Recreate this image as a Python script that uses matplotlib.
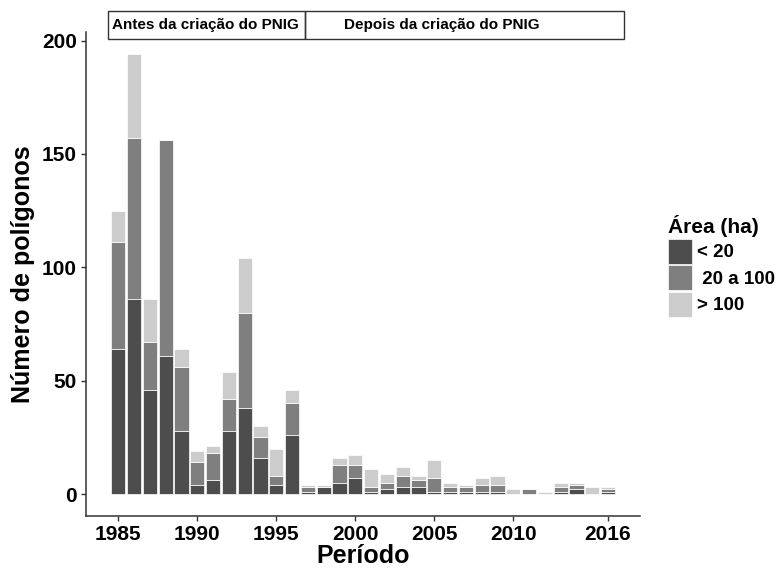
import matplotlib
matplotlib.use("Agg")
import matplotlib.pyplot as plt
from matplotlib.patches import Rectangle
import numpy as np

years = list(range(1985, 2017))
menor20 = [64, 86, 46, 61, 28, 4, 6, 28, 38, 16, 4, 26,
           1, 3, 5, 7, 1, 2, 3, 3, 1, 1, 1, 1, 1, 0, 0, 0, 1, 2, 0, 1]
de20a100 = [47, 71, 21, 95, 28, 10, 12, 14, 42, 9, 4, 14,
            2, 0, 8, 6, 2, 3, 5, 3, 6, 2, 2, 3, 3, 0, 2, 0, 2, 2, 0, 1]
maior100 = [14, 37, 19, 0, 8, 5, 3, 12, 24, 5, 12, 6,
            1, 1, 3, 4, 8, 4, 4, 2, 8, 2, 1, 3, 4, 2, 0, 1, 2, 1, 3, 1]
series_labels = ["< 20", " 20 a 100", "> 100"]
colors = ["#4D4D4D", "#7F7F7F", "#CCCCCC"]
xticks = [1985, 1990, 1995, 2000, 2005, 2010, 2016]
yticks = [0, 50, 100, 150, 200]
periodos = ["Antes da criação do PNIG", "Depois da criação do PNIG"]

plt.rcParams['font.family'] = ['Liberation Sans', 'DejaVu Sans']

W, H = 781, 569
fig = plt.figure(figsize=(W / 100, H / 100), dpi=100)
ax_left, ax_right = 86, 640.4
ax_top, ax_bot = 32.2, 516
ax = fig.add_axes([ax_left / W, (H - ax_bot) / H,
                   (ax_right - ax_left) / W, (ax_bot - ax_top) / H])

x = np.array(years)
bottom = np.zeros(len(years))
handles = []
for vals, lab, col in zip([menor20, de20a100, maior100], series_labels, colors):
    v = np.array(vals, dtype=float)
    b = ax.bar(x, v, width=0.9, bottom=bottom, color=col, edgecolor="white",
               linewidth=0.5, label=lab)
    handles.append(b)
    bottom += v

ax.set_xlim(1982.95, 2018.05)
ax.set_ylim(-9.7, 203.7)
ax.set_xticks(xticks)
ax.set_yticks(yticks)
ax.set_xticklabels([str(t) for t in xticks], fontsize=15, fontweight="bold")
ax.set_yticklabels([str(t) for t in yticks], fontsize=15, fontweight="bold")
ax.tick_params(axis="both", length=3.5, width=1.0, color="#333333", pad=3)
for s in ["top", "right"]:
    ax.spines[s].set_visible(False)
for s in ["left", "bottom"]:
    ax.spines[s].set_color("#333333")
    ax.spines[s].set_linewidth(1.1)

ax.set_xlabel("Período", fontsize=18, fontweight="bold", labelpad=0)
ax.set_ylabel("Número de polígonos", fontsize=18, fontweight="bold", labelpad=5)

# header boxes
y0, y1 = 200.7, 213.1
xa, xb, xc = 1984.32, 1996.83, 2017.03
for (l, r) in [(xa, xb), (xb, xc)]:
    ax.add_patch(Rectangle((l, y0), r - l, y1 - y0, fill=False, edgecolor="#333333",
                           linewidth=1.0, clip_on=False))
ax.text(1984.6, (y0 + y1) / 2, periodos[0], fontsize=11, fontweight="bold",
        ha="left", va="center", clip_on=False)
ax.text(1999.28, (y0 + y1) / 2, periodos[1], fontsize=11, fontweight="bold",
        ha="left", va="center", clip_on=False)

leg = ax.legend(handles=handles, labels=series_labels, loc="upper left",
                bbox_to_anchor=(668 / W, (H - 215) / H), bbox_transform=fig.transFigure,
                frameon=False, fontsize=13.5, title="Área (ha)",
                title_fontproperties={"weight": "bold", "size": 15},
                handlelength=1.28, handleheight=1.65, labelspacing=0.1,
                handletextpad=0.27, borderpad=0, borderaxespad=0, alignment="left")
for t in leg.get_texts():
    t.set_fontweight("bold")

fig.savefig("out.png", dpi=100)
